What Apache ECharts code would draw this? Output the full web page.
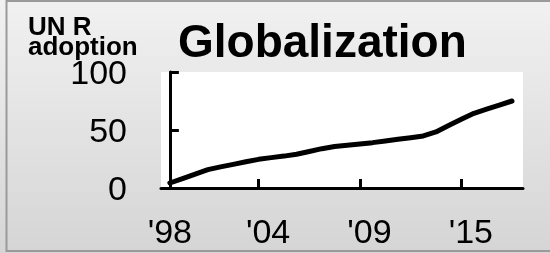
<!DOCTYPE html>
<html>
<head>
<meta charset="utf-8">
<script src="https://cdn.jsdelivr.net/npm/echarts@6/dist/echarts.min.js"></script>
<style>
  html, body { margin: 0; padding: 0; }
  #chart { width: 550px; height: 253px; }
</style>
</head>
<body>
<div id="chart"></div>
<script>
// points along the x axis (index of the observation)
const points = [0, 1, 2, 3, 4, 5, 6, 7, 8, 9, 10, 11, 12, 13, 14, 15, 16, 17, 18, 19, 20, 21, 22, 23, 24, 25, 26, 27];
const adoption = [4.3, 8.1, 12.0, 15.8, 18.2, 20.4, 22.6, 24.7, 26.2, 27.5, 29.1, 31.5, 33.9, 35.8, 36.8, 37.9, 39.1, 40.6, 42.0, 43.4, 44.9, 48.3, 53.8, 59.2, 64.4, 67.9, 71.5, 75.0];
const labelAt = [0, 7.75, 15.75, 23.75];
const yearLabels = ["'98", "'04", "'09", "'15"];
const tickAt = [7, 15, 23];

const chart = echarts.init(document.getElementById('chart'));
const font = 'Liberation Sans, Arial, sans-serif';

chart.setOption({
	animation: false,
	backgroundColor: {
		type: 'linear', x: 0, y: 0, x2: 0, y2: 1,
		colorStops: [{ offset: 0, color: '#f1f1f1' }, { offset: 1, color: '#d5d5d5' }]
	},
	title: [{
		text: 'Globalization',
		left: 173,
		top: 16,
		textStyle: { fontFamily: font, fontSize: 46, fontWeight: 'bold', color: '#000' }
	}, {
		text: 'UN R\nadoption',
		left: 23,
		top: 13,
		textStyle: { fontFamily: font, fontSize: 26, fontWeight: 'bold', color: '#000', lineHeight: 20 }
	}],
	graphic: [{
		type: 'rect',
		shape: { x: 6.5, y: 1, width: 560, height: 250 },
		style: { fill: null, stroke: '#9a9a9a', lineWidth: 2 },
		silent: true
	}],
	grid: {
		left: 161, top: 72, right: 27, bottom: 65,
		show: true, backgroundColor: '#fff', borderWidth: 0
	},
	xAxis: {
		type: 'value',
		min: -0.7,
		max: 27.87,
		splitLine: { show: false },
		axisLine: { show: true, lineStyle: { color: '#000', width: 3 } },
		axisTick: { show: true, inside: true, length: 9, customValues: tickAt, lineStyle: { color: '#000', width: 3 } },
		axisLabel: {
			customValues: labelAt,
			formatter: v => yearLabels[labelAt.indexOf(v)] ?? '',
			fontFamily: font, fontSize: 34, color: '#000', margin: 29
		}
	},
	yAxis: {
		type: 'value',
		min: 0,
		max: 100,
		interval: 50,
		splitLine: { show: false },
		axisLine: { show: true, lineStyle: { color: '#000', width: 3 } },
		axisTick: { show: true, inside: true, length: 9, lineStyle: { color: '#000', width: 3 } },
		axisLabel: {
			margin: 34,
			formatter: v => '{n|' + v + '}',
			rich: { n: { fontFamily: font, fontSize: 34, color: '#000', padding: [6, 0, 0, 0] } }
		}
	},
	series: [{
		type: 'line',
		data: points.map((p, i) => [p, adoption[i]]),
		symbol: 'none',
		lineStyle: { color: '#000', width: 5, cap: 'round', join: 'round' }
	}]
});
</script>
</body>
</html>
